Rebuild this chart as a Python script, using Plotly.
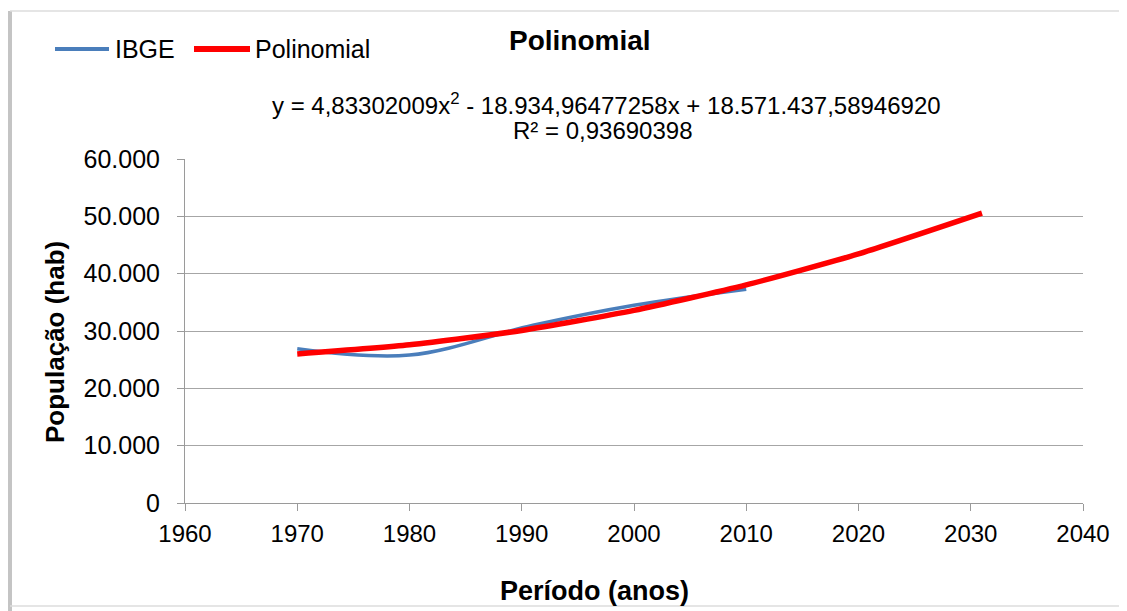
#!/usr/bin/env python3
"""Polynomial trend of population vs. IBGE census counts."""
import plotly.graph_objects as go

# IBGE census counts
ibge_years = [1970, 1980, 1991, 2000, 2010]
ibge_pop = [26900, 25800, 31000, 34500, 37300]

# Polynomial trendline, values
poly_years = [1970, 1980, 1990, 2000, 2010, 2020, 2031]
poly_pop = [26000, 27600, 30100, 33600, 38050, 43450, 50550]

x_ticks = list(range(1960, 2041, 10))
y_ticks = list(range(0, 60001, 10000))

FONT = "Liberation Sans, Arial, sans-serif"
BLUE = "#4A7EBB"
RED = "#FF0000"


def px_x(px):
    # window pixel -> paper x (plot area spans 185..1083)
    return (px - 185) / 898


def px_y(px):
    # window pixel -> paper y (plot area spans 159..503)
    return (503 - px) / 344


fig = go.Figure()
fig.add_trace(go.Scatter(
    x=ibge_years, y=ibge_pop, name="IBGE", mode="lines",
    line=dict(color=BLUE, width=3.5, shape="spline", smoothing=1.0),
))
fig.add_trace(go.Scatter(
    x=poly_years, y=poly_pop, name="Polinomial", mode="lines",
    line=dict(color=RED, width=5.5, shape="spline", smoothing=0.6),
))

# page body adds an 8px offset, so the figure is 8px smaller than the window
fig.update_layout(
    width=1119, height=603,
    margin=dict(l=177, r=44, t=151, b=108),
    paper_bgcolor="white", plot_bgcolor="white",
    separators=",.",
    font=dict(family=FONT, color="black", size=24),
    showlegend=False,
    xaxis=dict(
        range=[1960, 2040], tickvals=x_ticks, showgrid=False,
        showline=True, linecolor="#9a9a9a", linewidth=1,
        ticks="outside", ticklen=7, tickcolor="#9a9a9a",
        tickfont=dict(size=24), zeroline=False, ticklabelstandoff=2,
    ),
    yaxis=dict(
        range=[0, 60000], tickvals=y_ticks, tickformat=",d",
        showgrid=True, gridcolor="#a6a6a6", gridwidth=1,
        showline=True, linecolor="#9a9a9a", linewidth=1,
        ticks="outside", ticklen=7, tickcolor="#9a9a9a",
        tickfont=dict(size=25), zeroline=False, ticklabelstandoff=12,
    ),
)

texts = [
    # text, x px, y px, anchor, size, angle
    ("<b>Polinomial</b>", 580, 40, "center", 28, 0),
    ("y = 4,83302009x<sup>2</sup> - 18.934,96477258x + 18.571.437,58946920",
     606, 104, "center", 24, 0),
    ("R² = 0,93690398", 602, 130, "center", 24, 0),
    ("<b>Período (anos)</b>", 594, 591, "center", 27, 0),
    ("<b>População (hab)</b>", 55, 342, "center", 26, -90),
    ("IBGE", 113, 49, "left", 25, 0),
    ("Polinomial", 253, 49, "left", 25, 0),
]
for text, x, y, anchor, size, angle in texts:
    fig.add_annotation(
        xref="paper", yref="paper", x=px_x(x), y=px_y(y),
        xanchor=anchor, yanchor="middle", showarrow=False,
        text=text, textangle=angle, font=dict(size=size),
    )

# legend keys
for color, width, x0, x1 in [(BLUE, 4, 55, 109), (RED, 6, 194, 250)]:
    fig.add_shape(type="line", xref="paper", yref="paper",
                  x0=px_x(x0), x1=px_x(x1), y0=px_y(49), y1=px_y(49),
                  line=dict(color=color, width=width))

# chart frame edges (cropped Excel chart border)
fig.add_shape(type="line", xref="paper", yref="paper", x0=px_x(10), x1=px_x(10),
              y0=px_y(11), y1=px_y(611), line=dict(color="#c4c4c4", width=4))
fig.add_shape(type="line", xref="paper", yref="paper", x0=px_x(10), x1=px_x(1127),
              y0=px_y(11), y1=px_y(11), line=dict(color="#dcdcdc", width=1.5))
fig.add_shape(type="line", xref="paper", yref="paper", x0=px_x(10), x1=px_x(1127),
              y0=px_y(606), y1=px_y(606), line=dict(color="#dcdcdc", width=1.5))

fig.write_html("out.html")
